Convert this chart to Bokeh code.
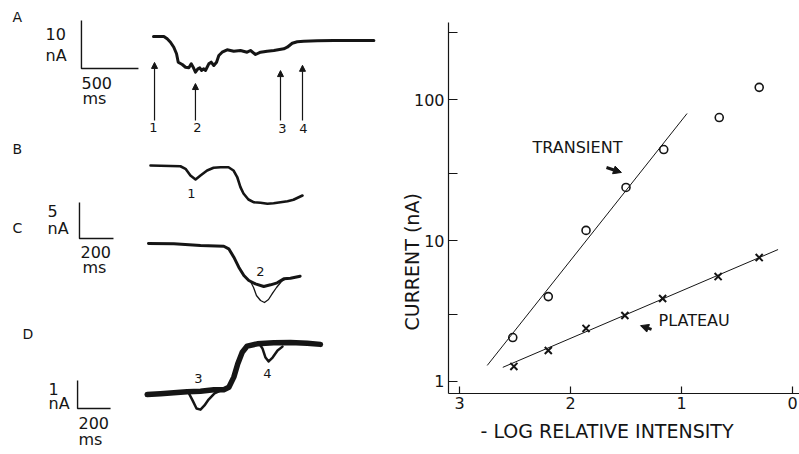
from bokeh.plotting import figure
from bokeh.layouts import row, column
from bokeh.models import Range1d, Label, Arrow, NormalHead, FixedTicker, Title
from bokeh.embed import file_html
from bokeh.resources import INLINE

INK = "#151515"
FONT = "DejaVu Sans"

# ---------------- right panel data (log-log plot) ----------------
transient_log_int = [2.52, 2.20, 1.86, 1.50, 1.16, 0.66, 0.30]
transient_nA = [2.05, 4.0, 11.8, 23.8, 44.2, 74.5, 122]
plateau_log_int = [2.51, 2.20, 1.86, 1.51, 1.17, 0.67, 0.30]
plateau_nA = [1.28, 1.66, 2.38, 2.94, 3.88, 5.55, 7.57]
transient_fit_x = [2.75, 0.95]
transient_fit_y = [1.30, 79.6]
plateau_fit_x = [2.61, 0.13]
plateau_fit_y = [1.26, 8.63]
y_ticks = [1, 3, 10, 30, 100, 300]
y_tick_labels = ["1", "", "10", "", "100", ""]
x_ticks = [0, 1, 2, 3]
x_tick_labels = ["0", "1", "2", "3"]

# ---------------- left panel traces (time in ms, current in nA) ----------------
a_t = [0, 91, 120, 149, 178, 202, 217, 252, 281, 310, 331, 348, 368, 389, 406, 421, 441, 456, 485, 506,
       529, 553, 573, 602, 646, 704, 763, 821, 851, 895, 939, 997, 1056, 1143, 1173, 1217, 1261, 1319,
       1436, 1582, 1933]
a_i = [0, 0, -0.48, -1.19, -2.23, -3.6, -5.35, -5.83, -6.4, -6.52, -5.69, -6.4, -7.44, -6.73, -6.52,
       -7.08, -6.73, -7.08, -5.69, -5.35, -6.04, -5.35, -3.96, -3.27, -2.77, -3.06, -2.92, -3.27, -2.92,
       -3.75, -3.27, -3.06, -2.92, -2.56, -2.23, -1.4, -1.1, -0.98, -0.9, -0.83, -0.83]
a_stim_t = [9, 368, 1114, 1307]
a_stim_tip = [-5.4, -9.8, -7.1, -6.0]

b_t = [0, 176, 206, 235, 265, 294, 333, 371, 412, 459, 488, 510, 529, 547, 576, 606, 647, 688, 724,
       765, 806, 841, 894]
b_i = [0, -0.1, -0.46, -1.39, -1.94, -1.39, -0.69, -0.32, -0.24, -0.24, -0.69, -1.6, -3.0, -3.89,
       -4.72, -5.1, -5.18, -5.32, -5.24, -5.1, -4.96, -4.76, -4.17]

c_t = [0, 149, 306, 443, 472, 502, 531, 561, 590, 629, 678, 718, 757, 796, 835, 892]
c_i = [0, -0.04, -0.28, -0.38, -0.74, -1.9, -3.29, -4.44, -5.14, -5.6, -5.97, -5.74, -5.46, -4.9,
       -4.82, -4.54]
c2_t = [590, 600, 618, 635, 659, 682, 706, 729, 753, 782, 812]
c2_i = [-5.14, -5.28, -6.11, -7.22, -7.92, -8.19, -7.78, -6.94, -6.11, -5.28, -4.86]

d_t = [0, 81, 161, 242, 323, 404, 464, 495, 525, 549, 576, 606, 667, 767, 868, 970, 1050]
d_i = [0, 0.03, 0.06, 0.1, 0.12, 0.17, 0.17, 0.26, 0.62, 1.1, 1.51, 1.73, 1.81, 1.85, 1.86, 1.83, 1.79]
d3_t = [250, 275, 299, 323, 347, 372, 408, 444]
d3_i = [0.07, -0.21, -0.5, -0.54, -0.39, -0.18, 0.04, 0.14]
d4_t = [687, 699, 717, 736, 760, 790, 820]
d4_i = [1.75, 1.64, 1.32, 1.18, 1.32, 1.57, 1.71]

# ---------------- left figure: page-pixel layout with one (ms, nA) frame per panel ----------------
LW, RW, H = 395, 404, 454
left = figure(width=LW, height=H, x_range=Range1d(0, LW), y_range=Range1d(H, 0),
              x_axis_location=None, y_axis_location=None,
              output_backend="svg", toolbar_location=None, min_border=0)
left.grid.visible = False
left.outline_line_color = None

# panel origin (px), px per ms, px per nA
PANELS = {"A": (153, 36, 0.114, 4.8), "B": (150, 165, 0.17, 7.2),
          "C": (148, 243, 0.17, 7.2), "D": (146.7, 394, 0.165, 28.0)}
xr, yr = {}, {}
for k, (ox, oy, sx, sy) in PANELS.items():
    xr[k] = Range1d((0 - ox) / sx, (LW - ox) / sx)
    yr[k] = Range1d(-(H - oy) / sy, (oy - 0) / sy)
left.extra_x_ranges = xr
left.extra_y_ranges = yr


def trace(k, t, i, w):
    left.line(t, i, x_range_name=k, y_range_name=k, line_color=INK, line_width=w,
              line_join="round", line_cap="round")


trace("A", a_t, a_i, 3)
trace("B", b_t, b_i, 2.6)
trace("C", c_t, c_i, 3)
trace("C", c2_t, c2_i, 1.3)
trace("D", d_t, d_i, 5.5)
trace("D", d3_t, d3_i, 2.5)
trace("D", d4_t, d4_i, 2.5)

for t, tip in zip(a_stim_t, a_stim_tip):
    left.add_layout(Arrow(x_start=t, y_start=-17.5, x_end=t, y_end=tip, x_range_name="A", y_range_name="A",
                          line_color=INK, line_width=1.2,
                          end=NormalHead(size=6, fill_color=INK, line_color=INK)))

# scale bars (corner t, corner i, dt, di) in each panel's units
for k, t0, i0, dt, di in [("A", -632, -6.67, 500, 10), ("C", -406, 0.69, 200, 5), ("D", -422, -0.5, 200, 1)]:
    left.line([t0, t0, t0 + dt], [i0 + di, i0, i0], x_range_name=k, y_range_name=k,
              line_color=INK, line_width=1.4)


def ltext(fig, x, y, s, size=16, align="left", angle=0):
    fig.add_layout(Label(x=x, y=y, text=s, text_font=FONT, text_font_size=f"{size}px",
                         text_color=INK, text_align=align, text_baseline="middle", angle=angle))


for s, x, y in [("A", 12, 16), ("B", 12, 148), ("C", 12, 227), ("D", 22, 333)]:
    ltext(left, x, y, s, 14)
for s, x, y in [("10", 45, 33), ("nA", 45, 55), ("500", 81, 82), ("ms", 82, 98),
                ("5", 47, 210), ("nA", 47, 228), ("200", 80, 251), ("ms", 82, 267),
                ("1", 48, 388), ("nA", 48, 403), ("200", 78, 422), ("ms", 78, 439)]:
    ltext(left, x, y, s, 16)
for s, x, y in [("1", 153, 127), ("2", 197, 127), ("3", 282, 128), ("4", 303, 128),
                ("1", 191, 193), ("2", 260, 271), ("3", 198, 378), ("4", 267, 373)]:
    ltext(left, x, y, s, 13, align="center")

# ---------------- right figure ----------------
right = figure(width=RW, height=H, x_range=Range1d(3.099, -0.063), y_range=Range1d(0.822, 352),
               y_axis_type="log", output_backend="svg", toolbar_location=None,
               min_border_left=53, min_border_right=0, min_border_top=22, min_border_bottom=61)
right.grid.visible = False
right.outline_line_color = None
right.xaxis.ticker = FixedTicker(ticks=x_ticks)
right.xaxis.major_label_overrides = dict(zip(x_ticks, x_tick_labels))
right.yaxis.ticker = FixedTicker(ticks=y_ticks)
right.yaxis.major_label_overrides = dict(zip(y_ticks, y_tick_labels))
for ax in (right.xaxis, right.yaxis):
    ax.axis_line_color = INK
    ax.axis_line_width = 1.2
    ax.major_tick_line_color = INK
    ax.major_tick_line_width = 1.2
    ax.major_tick_out = 0
    ax.minor_tick_line_color = None
    ax.major_label_text_font = FONT
    ax.major_label_text_font_size = "16px"
    ax.major_label_text_color = INK
right.yaxis.major_tick_in = 9
right.yaxis.major_label_standoff = 4
right.xaxis.major_tick_in = 7
right.xaxis.major_label_standoff = 3

right.add_layout(Title(text="CURRENT (nA)", align="left", offset=63, standoff=-24,
                       text_font=FONT, text_font_size="19px", text_font_style="normal",
                       text_color=INK), "left")
right.add_layout(Title(text="- LOG RELATIVE INTENSITY", align="left", offset=32, standoff=12,
                       text_font=FONT, text_font_size="19px", text_font_style="normal",
                       text_color=INK), "below")

right.line(transient_fit_x, transient_fit_y, line_color=INK, line_width=1)
right.line(plateau_fit_x, plateau_fit_y, line_color=INK, line_width=1)
right.scatter(transient_log_int, transient_nA, marker="circle", size=8, fill_color=None,
              line_color=INK, line_width=1.6)
right.scatter(plateau_log_int, plateau_nA, marker="x", size=10, line_color=INK, line_width=2)

ltext(right, 2.342, 45.7, "TRANSIENT", 16)
ltext(right, 1.207, 2.71, "PLATEAU", 16)
right.add_layout(Arrow(x_start=1.676, y_start=32.95, x_end=1.541, y_end=30.4, line_color=INK, line_width=3,
                       end=NormalHead(size=8, fill_color=INK, line_color=INK)))
right.add_layout(Arrow(x_start=1.27, y_start=2.34, x_end=1.369, y_end=2.49, line_color=INK, line_width=3,
                       end=NormalHead(size=8, fill_color=INK, line_color=INK)))

layout = row(column(left), column(right))
open("out.html", "w").write(file_html(layout, INLINE))
